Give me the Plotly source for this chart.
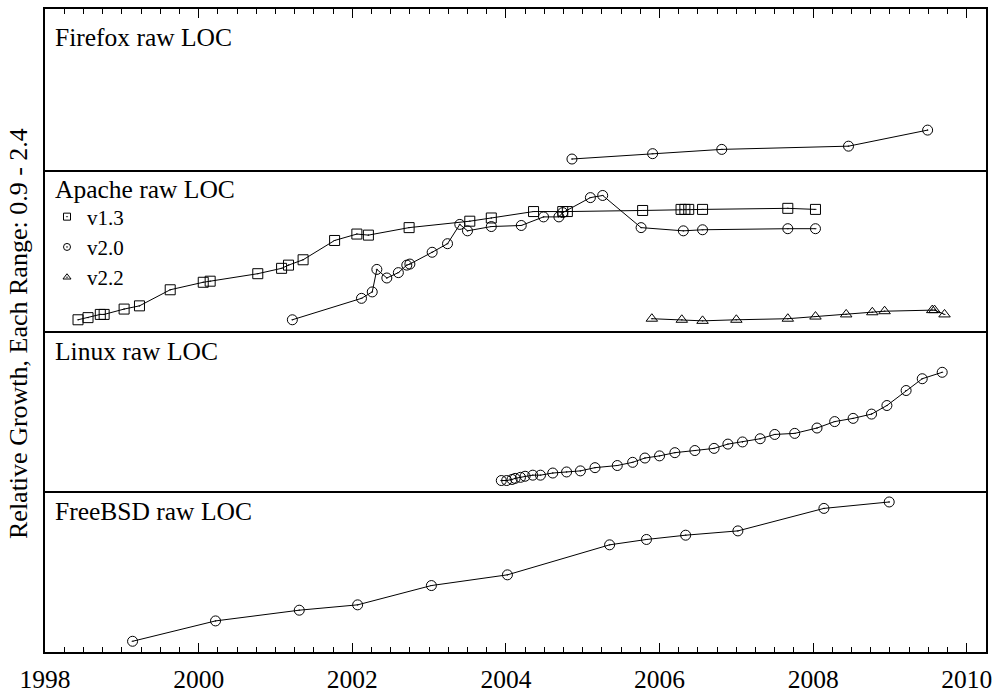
import plotly.graph_objects as go
from plotly.subplots import make_subplots

# ---------------- data ----------------
firefox_years = [2004.86, 2005.91, 2006.81, 2008.46, 2009.49]
firefox_vals = [1.00, 1.05, 1.09, 1.12, 1.27]

apache13_years = [1998.43, 1998.56, 1998.72, 1998.77, 1999.03, 1999.23, 1999.63, 2000.06,
                  2000.15, 2000.77, 2001.08, 2001.17, 2001.36, 2001.77, 2002.06, 2002.21,
                  2002.74, 2003.53, 2003.81, 2004.36, 2004.74, 2004.80, 2005.78, 2006.28,
                  2006.33, 2006.38, 2006.56, 2007.67, 2008.03]
apache13_vals = [1.00, 1.02, 1.05, 1.05, 1.10, 1.13, 1.28, 1.35,
                 1.36, 1.43, 1.48, 1.51, 1.56, 1.74, 1.80, 1.79,
                 1.86, 1.92, 1.95, 2.01, 2.01, 2.01, 2.02, 2.03,
                 2.03, 2.03, 2.03, 2.04, 2.03]

apache20_years = [2001.22, 2002.12, 2002.26, 2002.32, 2002.45, 2002.60, 2002.71, 2002.75,
                  2003.04, 2003.24, 2003.40, 2003.50, 2003.81, 2004.20, 2004.49, 2004.69,
                  2004.74, 2005.10, 2005.26, 2005.76, 2006.31, 2006.56, 2007.67, 2008.03]
apache20_vals = [1.00, 1.20, 1.26, 1.47, 1.39, 1.44, 1.51, 1.52,
                 1.63, 1.71, 1.89, 1.83, 1.87, 1.88, 1.96, 1.96,
                 2.00, 2.14, 2.16, 1.86, 1.83, 1.84, 1.85, 1.85]

apache22_years = [2005.90, 2006.29, 2006.56, 2007.00, 2007.67, 2008.03, 2008.43, 2008.77,
                  2008.93, 2009.55, 2009.58, 2009.71]
apache22_vals = [1.01, 1.00, 0.99, 1.00, 1.01, 1.03, 1.05, 1.07,
                 1.08, 1.09, 1.09, 1.05]

linux_years = [2003.94, 2004.01, 2004.08, 2004.12, 2004.19, 2004.25, 2004.35, 2004.45,
               2004.61, 2004.79, 2004.97, 2005.16, 2005.45, 2005.65, 2005.81, 2006.00,
               2006.20, 2006.46, 2006.71, 2006.89, 2007.08, 2007.31, 2007.50, 2007.76,
               2008.05, 2008.28, 2008.52, 2008.76, 2008.96, 2009.21, 2009.42, 2009.68]
linux_vals = [1.00, 1.00, 1.01, 1.02, 1.03, 1.04, 1.05, 1.05,
              1.07, 1.08, 1.09, 1.12, 1.14, 1.17, 1.21, 1.23,
              1.26, 1.28, 1.30, 1.34, 1.36, 1.39, 1.43, 1.44,
              1.49, 1.55, 1.58, 1.62, 1.70, 1.84, 1.95, 2.01]

freebsd_years = [1999.14, 2000.22, 2001.31, 2002.07, 2003.03, 2004.02, 2005.35, 2005.83,
                 2006.34, 2007.02, 2008.14, 2008.99]
freebsd_vals = [1.00, 1.19, 1.29, 1.34, 1.52, 1.62, 1.90, 1.95,
                1.99, 2.03, 2.24, 2.30]

panel_titles = ["Firefox raw LOC", "Apache raw LOC", "Linux raw LOC", "FreeBSD raw LOC"]
apache_series_names = ["v1.3", "v2.0", "v2.2"]
x_tick_vals = [1998, 2000, 2002, 2004, 2006, 2008, 2010]
x_tick_text = ["1998", "2000", "2002", "2004", "2006", "2008", "2010"]
y_title = "Relative Growth, Each Range: 0.9 - 2.4"

# ---------------- figure ----------------
FONT = "Liberation Serif"
FS = 25.5

fig = make_subplots(rows=4, cols=1, shared_xaxes=True, vertical_spacing=0)

line_style = dict(color="black", width=1)


def add_series(x, y, row, symbol, size=10):
    fig.add_trace(go.Scatter(
        x=x, y=y, mode="lines+markers", showlegend=False,
        line=line_style,
        marker=dict(symbol=symbol, size=size, color="black", line=dict(width=1, color="black")),
    ), row=row, col=1)


add_series(firefox_years, firefox_vals, 1, "circle-open-dot")
add_series(apache13_years, apache13_vals, 2, "square-open-dot", 10)
add_series(apache20_years, apache20_vals, 2, "circle-open-dot")
add_series(apache22_years, apache22_vals, 2, "triangle-up-open-dot", 10)
add_series(linux_years, linux_vals, 3, "circle-open-dot")
add_series(freebsd_years, freebsd_vals, 4, "circle-open-dot")

# legend entries (marker only)
legend_symbols = ["square-open-dot", "circle-open-dot", "triangle-up-open-dot"]
for name, sym in zip(apache_series_names, legend_symbols):
    fig.add_trace(go.Scatter(
        x=[None], y=[None], mode="markers", name=name, showlegend=True,
        marker=dict(symbol=sym, size=7, color="black", line=dict(width=1, color="black")),
    ), row=2, col=1)

W, H = 997, 696
ML, MR, MT, MB = 45, 11, 9, 44
PW = W - ML - MR
PH = H - MT - MB


def px2paper_x(px):
    return (px - ML) / PW


def py2paper_y(py):
    return (H - MB - py) / PH


fig.update_layout(
    legend=dict(
        x=px2paper_x(47), y=py2paper_y(247),
        font=dict(family=FONT, size=21, color="black"),
        bgcolor="rgba(0,0,0,0)", borderwidth=0, tracegroupgap=0,
        xanchor="left", yanchor="middle", itemclick=False, itemdoubleclick=False,
    )
)

LW = 1.6
axis_base = dict(showline=True, linecolor="black", linewidth=LW,
                 showgrid=False, zeroline=False, automargin=False)
minor_ticks = dict(dtick=0.25, tick0=1998, ticks="inside", ticklen=5,
                   tickwidth=1.2, tickcolor="black", showgrid=False)

for r in range(1, 5):
    xa = dict(range=[1998, 2010.25], tick0=1998, dtick=2, **axis_base)
    if r == 1:
        xa.update(side="top", mirror=True, ticks="inside", ticklen=9, tickwidth=1.2,
                  tickcolor="black", showticklabels=False, minor=minor_ticks)
    elif r == 4:
        xa.update(side="bottom", mirror=False, ticks="inside", ticklen=9, tickwidth=1.2,
                  tickcolor="black", showticklabels=True, tickvals=x_tick_vals,
                  ticktext=x_tick_text, ticklabelstandoff=4,
                  tickfont=dict(family=FONT, size=FS, color="black"),
                  minor=minor_ticks)
    else:
        xa.update(side="bottom", mirror=False, ticks="", showticklabels=False)
    fig.update_xaxes(row=r, col=1, **xa)
    fig.update_yaxes(row=r, col=1, range=[0.9, 2.4], ticks="", showticklabels=False,
                     mirror=True, **axis_base)

# panel titles
title_offsets = [-12, -3, -4, -4]
for i, (t, off) in enumerate(zip(panel_titles, title_offsets)):
    suffix = "" if i == 0 else str(i + 1)
    fig.add_annotation(
        text=t, xref=f"x{suffix} domain", yref=f"y{suffix} domain",
        x=0, y=1, xanchor="left", yanchor="top", showarrow=False,
        xshift=8, yshift=off,
        font=dict(family=FONT, size=FS, color="black"),
    )

# y axis title
fig.add_annotation(
    text=y_title, xref="paper", yref="paper",
    x=px2paper_x(18), y=py2paper_y(334), xanchor="center", yanchor="middle",
    textangle=-90, showarrow=False,
    font=dict(family=FONT, size=26, color="black"),
)

fig.update_layout(
    width=W, height=H,
    margin=dict(l=ML, r=MR, t=MT, b=MB, autoexpand=False),
    paper_bgcolor="white", plot_bgcolor="white",
    font=dict(family=FONT, size=FS, color="black"),
)

fig.write_html("out.html")
